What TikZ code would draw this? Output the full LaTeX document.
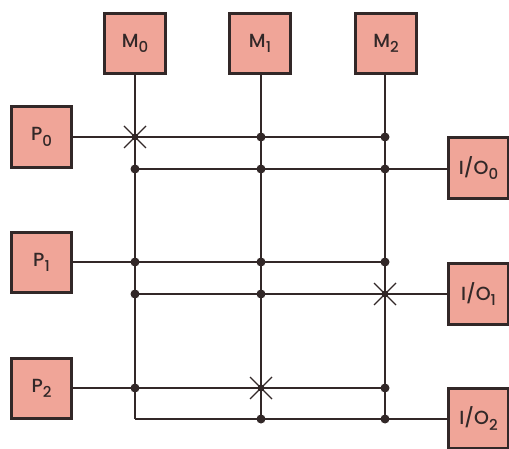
\documentclass[tikz,border=0pt]{standalone}
\usepackage{fontspec}
\setmainfont{Poppins}[UprightFont=* Medium]
\definecolor{boxfill}{RGB}{240,165,152}
\definecolor{ink}{RGB}{50,40,40}
\newcommand{\lbl}[2]{\fontsize{19}{22}\selectfont #1\raisebox{-5.5pt}{\fontsize{15}{17}\selectfont #2}}
\begin{document}
\begin{tikzpicture}[x=1pt,y=-1pt,
  unitbox/.style={draw=ink,line width=2.8pt,fill=boxfill,minimum size=60.5pt,inner sep=0pt,text=ink},
  wire/.style={draw=ink,line width=1.8pt},
  jdot/.style={fill=ink},
  xmark/.style={draw=ink,line width=1.3pt}]
\useasboundingbox (0,0) rectangle (509,449);
\begin{scope}
\clip (0,0) rectangle (509,449);
% boxes
\node[unitbox] (M0) at (135,43.5) {\lbl{M}{0}};
\node[unitbox] (M1) at (260,43.5) {\lbl{M}{1}};
\node[unitbox] (M2) at (386,43.5) {\lbl{M}{2}};
\node[unitbox] (P0) at (41.5,137) {\lbl{P}{0}};
\node[unitbox] (P1) at (41.5,262.5) {\lbl{P}{1}};
\node[unitbox] (P2) at (41.5,388.5) {\lbl{P}{2}};
\node[unitbox] (IO0) at (478.5,168) {\lbl{I/O}{0}};
\node[unitbox] (IO1) at (478.5,294) {\lbl{I/O}{1}};
\node[unitbox] (IO2) at (478.5,418.5) {\lbl{I/O}{2}};
% crossing points
\foreach \c/\x in {0/135,1/261,2/385}{
  \foreach \r/\y in {0/137,1/169,2/262,3/294,4/388,5/419}{
    \coordinate (x\c\r) at (\x,\y);
  }
}
% vertical buses
\draw[wire] (M0.south) -- (x05);
\draw[wire] (M1.south -| x10) -- (x15);
\draw[wire] (M2.south -| x20) -- (x25);
% horizontal buses
\draw[wire] (P0.east) -- (x20);
\draw[wire] (x01) -- (IO0.west |- x01);
\draw[wire] (P1.east |- x02) -- (x22);
\draw[wire] (x03) -- (IO1.west |- x03);
\draw[wire] (P2.east |- x04) -- (x24);
\draw[wire] (x05) -- (IO2.west |- x05);
% junction dots
\foreach \p in {x10,x20,x01,x11,x21,x02,x12,x22,x03,x13,x04,x24,x15,x25}{
  \fill[jdot] (\p) circle (4.5pt);
}
% crosspoint switches
\foreach \p in {x00,x23,x14}{
  \fill[jdot] (\p) circle (3.5pt);
  \draw[xmark] ([shift={(-11pt,-11pt)}]\p) -- ([shift={(11pt,11pt)}]\p);
  \draw[xmark] ([shift={(-11pt,11pt)}]\p) -- ([shift={(11pt,-11pt)}]\p);
}
\end{scope}
\end{tikzpicture}
\end{document}
